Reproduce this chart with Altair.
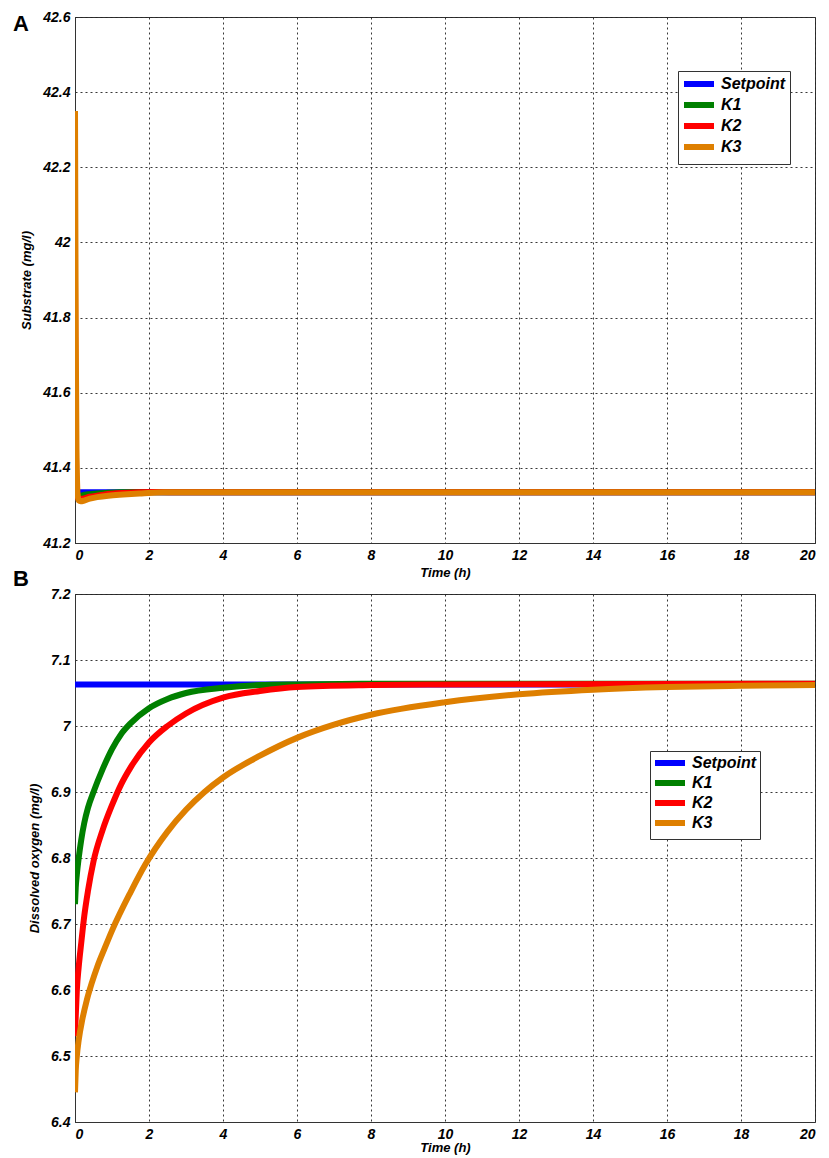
import altair as alt
import pandas as pd

SERIES = ["Setpoint", "K1", "K2", "K3"]
COLORS = ["#0000FF", "#008000", "#FF0000", "#DE7F00"]

# ---------------- Panel A : Substrate (mg/l) ----------------
a_sp_t = [0, 20]
a_sp_v = [41.335, 41.335]
a_k1_t = [0, 0.02, 0.05, 0.1, 0.2, 0.4, 0.8, 1.2, 1.8, 3, 20]
a_k1_v = [41.67, 41.42, 41.33, 41.324, 41.327, 41.330, 41.333, 41.3352, 41.3356, 41.335, 41.335]
a_k2_t = [0, 0.02, 0.05, 0.1, 0.2, 0.4, 0.8, 1.3, 2.1, 3, 20]
a_k2_v = [41.90, 41.50, 41.33, 41.317, 41.318, 41.323, 41.329, 41.333, 41.3356, 41.335, 41.335]
a_k3_t = [0, 0.02, 0.04, 0.07, 0.1, 0.15, 0.25, 0.4, 0.6, 0.9, 1.3, 1.8, 2.4, 5, 20]
a_k3_v = [42.35, 41.75, 41.45, 41.33, 41.313, 41.311, 41.313, 41.318, 41.322, 41.326, 41.329, 41.332, 41.335, 41.335, 41.335]

# ---------------- Panel B : Dissolved oxygen (mg/l) ----------------
b_sp_t = [0, 20]
b_sp_v = [7.063, 7.063]
b_k1_t = [0, 0.02, 0.05, 0.1, 0.17, 0.25, 0.35, 0.5, 0.75, 1, 1.25, 1.5, 2, 2.5, 3, 4, 5, 6, 8, 20]
b_k1_v = [6.73, 6.755, 6.775, 6.80, 6.828, 6.853, 6.876, 6.90, 6.935, 6.965, 6.988, 7.004,
          7.027, 7.041, 7.05, 7.058, 7.062, 7.063, 7.064, 7.064]
b_k2_t = [0, 0.02, 0.05, 0.1, 0.17, 0.25, 0.35, 0.5, 0.75, 1, 1.25, 1.5, 2, 2.5, 3, 4, 5, 6, 8, 10, 20]
b_k2_v = [6.53, 6.56, 6.60, 6.635, 6.672, 6.712, 6.75, 6.795, 6.843, 6.88, 6.912, 6.937,
          6.975, 7.0, 7.019, 7.043, 7.053, 7.059, 7.062, 7.063, 7.064]
b_k3_t = [0, 0.02, 0.05, 0.1, 0.2, 0.32, 0.45, 0.6, 0.8, 1, 1.5, 1.9, 2.5, 3, 3.5, 4, 5, 6, 7, 8,
          10, 12, 14, 16, 18, 20]
b_k3_v = [6.445, 6.478, 6.50, 6.524, 6.556, 6.585, 6.61, 6.635, 6.663, 6.69, 6.748, 6.79, 6.84,
          6.873, 6.90, 6.922, 6.955, 6.982, 7.002, 7.017, 7.036, 7.048, 7.055, 7.059, 7.061, 7.062]

x_ticks = list(range(0, 21, 2))
a_ticks = [41.2, 41.4, 41.6, 41.8, 42.0, 42.2, 42.4, 42.6]
b_ticks = [6.4, 6.5, 6.6, 6.7, 6.8, 6.9, 7.0, 7.1, 7.2]

FONT = "Liberation Sans"


def frame(ts, vs, name):
    return pd.DataFrame({"t": ts, "v": vs, "series": [name] * len(ts)})


def panel(data, ydomain, yticks, ytitle, lx, ly, rowpad, lpad, xtpad, w, h, labels):
    layers = []
    for name, (ts, vs) in zip(SERIES, data):
        df = frame(ts, vs, name)
        layers.append(
            alt.Chart(df)
            .mark_line(strokeWidth=6, interpolate="monotone", clip=True)
            .encode(
                x=alt.X("t:Q", scale=alt.Scale(domain=[0, 20], nice=False),
                        axis=alt.Axis(values=x_ticks, title="Time (h)", format="d",
                                      titlePadding=xtpad)),
                y=alt.Y("v:Q", scale=alt.Scale(domain=ydomain, nice=False, zero=False),
                        axis=alt.Axis(values=yticks, title=ytitle, format=".1~f")),
                color=alt.Color("series:N",
                                scale=alt.Scale(domain=SERIES, range=COLORS),
                                legend=alt.Legend(orient="none", legendX=lx, legendY=ly,
                                                  title=None, rowPadding=rowpad,
                                                  padding=lpad)),
            )
        )
    for lab, x, y in labels:
        layers.append(
            alt.Chart(pd.DataFrame({"lab": [lab]}))
            .mark_text(align="left", baseline="top", fontSize=22, fontWeight="bold",
                       font=FONT, color="black")
            .encode(text="lab:N", x=alt.value(x), y=alt.value(y))
        )
    return alt.layer(*layers).properties(width=w, height=h)


pa = panel([(a_sp_t, a_sp_v), (a_k1_t, a_k1_v), (a_k2_t, a_k2_v), (a_k3_t, a_k3_v)],
           [41.2, 42.6], a_ticks, "Substrate (mg/l)", 603, 54, -3, 5, 4, 740, 526,
           [("A", -62, -3), ("B", -62, 552)])
pb = panel([(b_sp_t, b_sp_v), (b_k1_t, b_k1_v), (b_k2_t, b_k2_v), (b_k3_t, b_k3_v)],
           [6.4, 7.2], b_ticks, "Dissolved oxygen (mg/l)", 575, 157, -4.5, 4, 0, 740, 528, [])

chart = (
    alt.vconcat(pa, pb, spacing=-5)
    .resolve_legend(color="independent")
    .properties(padding={"left": 12, "top": 9, "right": 8, "bottom": 2}, background="white")
    .configure_view(stroke="#333333", strokeWidth=1)
    .configure_axis(
        labelFont=FONT, labelFontSize=14, labelFontWeight="bold", labelFontStyle="italic",
        labelColor="black", labelPadding=5,
        titleFont=FONT, titleFontSize=13, titleFontWeight="bold", titleFontStyle="italic",
        titleColor="black", titlePadding=9,
        grid=True, gridColor="#222222", gridDash=[2, 3], gridWidth=1, gridOpacity=0.9,
        domainColor="#333333", ticks=False,
    )
    .configure_legend(
        labelFont=FONT, labelFontSize=16, labelFontWeight="bold", labelFontStyle="italic",
        labelColor="black", symbolType="M-3,0H3", symbolStrokeWidth=6, symbolSize=100,
        symbolOffset=8, labelOffset=14, strokeColor="#333333", fillColor="white",
        cornerRadius=0, labelLimit=200,
    )
)

chart.save("out.html", embed_options={"renderer": "svg", "actions": False})
